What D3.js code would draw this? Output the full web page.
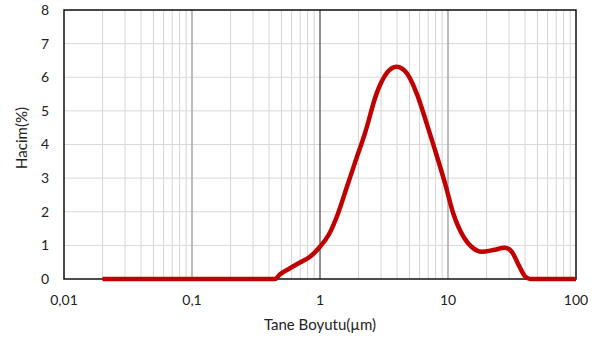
<!DOCTYPE html>
<html>
<head>
<meta charset="utf-8">
<script src="https://cdn.jsdelivr.net/npm/d3@7"></script>
<style>
  body { margin: 0; background: #fff; }
  svg text { font-family: Lato, "Open Sans", sans-serif; fill: #222; }
</style>
</head>
<body>
<div id="viz"></div>
<script>
const width = 593;
const height = 338;
const margin = {top: 10, right: 17, bottom: 59, left: 64};

// particle size (µm) and volume (%)
const sizes = [0.02, 0.445, 0.487, 0.583, 0.698, 0.835, 1.0, 1.176, 1.383, 1.626, 1.911, 2.247, 2.77, 3.32,
  3.97, 4.76, 5.69, 6.81, 7.91, 9.47, 11.0, 13.2, 15.8, 18.3, 22.6, 27.9, 31.5, 35.6, 40.1, 43.9, 100];
const volumes = [0, 0, 0.14, 0.32, 0.49, 0.66, 0.96, 1.33, 1.95, 2.75, 3.55, 4.34, 5.52, 6.12,
  6.31, 6.12, 5.52, 4.63, 3.84, 2.85, 1.95, 1.26, 0.91, 0.81, 0.86, 0.93, 0.81, 0.42, 0.07, 0, 0];

const xTicks = [0.01, 0.1, 1, 10, 100];
const xTickLabels = ['0,01', '0,1', '1', '10', '100'];
const yTicks = [0, 1, 2, 3, 4, 5, 6, 7, 8];

const svg = d3.select('#viz')
  .append('svg')
  .attr('width', width)
  .attr('height', height);

const x = d3.scaleLog()
  .domain([0.01, 100])
  .range([margin.left, width - margin.right]);

const y = d3.scaleLinear()
  .domain([0, 8])
  .range([height - margin.bottom, margin.top]);

// minor vertical grid
const minor = [];
[0.01, 0.1, 1, 10].forEach(d => {
  for (let k = 2; k <= 9; k++) minor.push(d * k);
});

svg.append('g')
  .selectAll('line')
  .data(minor)
  .join('line')
  .attr('x1', d => x(d)).attr('x2', d => x(d))
  .attr('y1', y(0)).attr('y2', y(8))
  .attr('stroke', '#d4d4d4')
  .attr('stroke-width', 1);

// horizontal grid
svg.append('g')
  .selectAll('line')
  .data(yTicks.slice(1))
  .join('line')
  .attr('x1', x(0.01)).attr('x2', x(100))
  .attr('y1', d => y(d)).attr('y2', d => y(d))
  .attr('stroke', '#d9d9d9')
  .attr('stroke-width', 1);

// major vertical lines
const majorStyle = {0.1: ['#a6a6a6', 1.5], 1: ['#222', 1], 10: ['#a6a6a6', 1.5]};
svg.append('g')
  .selectAll('line')
  .data([0.1, 1, 10])
  .join('line')
  .attr('x1', d => x(d)).attr('x2', d => x(d))
  .attr('y1', y(0)).attr('y2', y(8))
  .attr('stroke', d => majorStyle[d][0])
  .attr('stroke-width', d => majorStyle[d][1]);

// plot border
svg.append('rect')
  .attr('x', x(0.01))
  .attr('y', y(8))
  .attr('width', x(100) - x(0.01))
  .attr('height', y(0) - y(8))
  .attr('fill', 'none')
  .attr('stroke', '#111')
  .attr('stroke-width', 1.5);

// curve
const points = sizes.map((s, i) => [s, volumes[i]]);
const line = d3.line()
  .x(d => x(d[0]))
  .y(d => y(d[1]))
  .curve(d3.curveMonotoneX);

svg.append('path')
  .datum(points)
  .attr('d', line)
  .attr('fill', 'none')
  .attr('stroke', '#c00000')
  .attr('stroke-width', 4.5)
  .attr('stroke-linejoin', 'round');

// tick labels
svg.append('g')
  .selectAll('text')
  .data(xTicks)
  .join('text')
  .attr('x', d => x(d))
  .attr('y', y(0) + 26)
  .attr('text-anchor', 'middle')
  .attr('font-size', 14)
  .text((d, i) => xTickLabels[i]);

svg.append('g')
  .selectAll('text')
  .data(yTicks)
  .join('text')
  .attr('x', 49)
  .attr('y', d => y(d))
  .attr('dy', '0.35em')
  .attr('text-anchor', 'end')
  .attr('font-size', 14)
  .text(d => d);

// axis titles
svg.append('text')
  .attr('x', 320)
  .attr('y', 330)
  .attr('text-anchor', 'middle')
  .attr('font-size', 15)
  .text('Tane Boyutu(µm)');

svg.append('text')
  .attr('transform', 'translate(27,138) rotate(-90)')
  .attr('text-anchor', 'middle')
  .attr('font-size', 15)
  .text('Hacim(%)');
</script>
</body>
</html>
